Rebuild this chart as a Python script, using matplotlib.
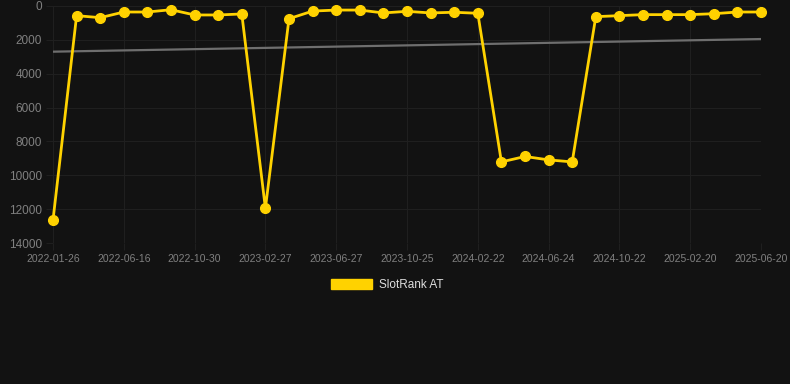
import numpy as np
import matplotlib
matplotlib.use("Agg")
import matplotlib.pyplot as plt
from matplotlib.patches import Patch

# tick labels shown on the x axis (every third data point)
tick_labels = ['2022-01-26', '2022-06-16', '2022-10-30', '2023-02-27', '2023-06-27',
               '2023-10-25', '2024-02-22', '2024-06-24', '2024-10-22', '2025-02-20',
               '2025-06-20']

# rank values (31 points)
rank = [12650, 570, 690, 355, 355, 220, 530, 530, 470, 11950,
        750, 300, 240, 240, 410, 315, 410, 370, 430, 9210,
        8890, 9090, 9210, 630, 570, 510, 510, 510, 455, 355,
        355]

y_ticks = [0, 2000, 4000, 6000, 8000, 10000, 12000, 14000]

bg = '#121212'
gold = '#FFD200'

plt.rcParams['font.family'] = ['Liberation Sans', 'DejaVu Sans']

fig = plt.figure(figsize=(7.9, 3.84), dpi=100, facecolor=bg)
ax = fig.add_axes([53/790, 1 - 243/384, (761-53)/790, (243-6)/384])
ax.set_facecolor(bg)

x = np.arange(len(rank))

# linear trend of the series
z = np.polyfit(x, rank, 1)
p = np.poly1d(z)
ax.plot(x, p(x), color='#6e6e6e', linewidth=1.6, zorder=2)

ax.plot(x, rank, color=gold, linewidth=2.0, marker='o', markersize=7,
        markerfacecolor=gold, markeredgecolor=gold, zorder=3, clip_on=False)

ax.set_xlim(0, len(rank) - 1)
ax.set_ylim(14000, 0)
ax.set_yticks(y_ticks)
ax.set_yticklabels([str(v) for v in y_ticks])
ax.set_xticks(x[::3])
ax.set_xticklabels(tick_labels)

ax.grid(True, color='#1f1f1f', linewidth=0.8)
for s in ax.spines.values():
    s.set_visible(False)
ax.tick_params(axis='y', colors='#1f1f1f', labelcolor='#808080', labelsize=8.5, length=5, pad=3)
ax.tick_params(axis='x', colors='#1f1f1f', labelcolor='#808080', labelsize=7.5, length=5, pad=3)

leg = fig.legend(handles=[Patch(facecolor=gold, edgecolor=gold, label='SlotRank AT')],
                 loc='center', bbox_to_anchor=(0.49, 1 - 285/384), frameon=False,
                 fontsize=8.5, handlelength=3.5, handleheight=0.9, handletextpad=0.55)
for t in leg.get_texts():
    t.set_color('#dddddd')

fig.savefig('out.png', dpi=100, facecolor=bg)
